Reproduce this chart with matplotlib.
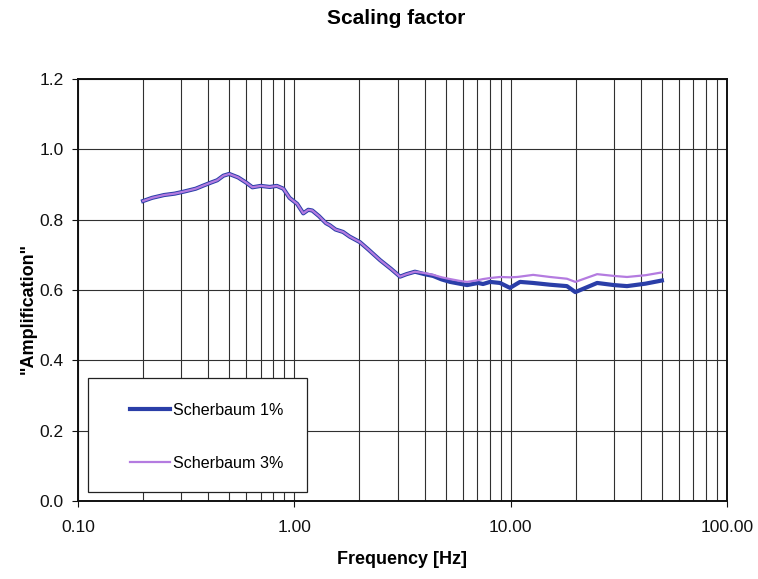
import numpy as np
import matplotlib
matplotlib.use("Agg")
import matplotlib.pyplot as plt
from matplotlib.patches import Rectangle
from matplotlib.ticker import LogLocator, FixedLocator, FixedFormatter

# Daten
freq = [0.20, 0.22, 0.25, 0.28, 0.31, 0.35, 0.38, 0.41, 0.44, 0.47, 0.50,
        0.55, 0.60, 0.64, 0.70, 0.77, 0.83, 0.89, 0.95, 1.03, 1.10, 1.16,
        1.21, 1.30, 1.40, 1.46, 1.55, 1.68, 1.80, 2.01, 2.20, 2.49, 2.80,
        3.08, 3.30, 3.61, 4.00, 4.38, 4.80, 5.25, 5.80, 6.29, 7.07, 7.45,
        8.03, 8.93, 9.93, 10.7, 11.05, 12.7, 15.2, 18.2, 19.9, 25.1, 30.0,
        34.5, 42.0, 50.0]

amp_1 = [0.853, 0.862, 0.870, 0.874, 0.880, 0.888, 0.897, 0.905, 0.912, 0.925,
         0.930, 0.920, 0.905, 0.892, 0.896, 0.893, 0.896, 0.888, 0.862, 0.845,
         0.818, 0.828, 0.826, 0.810, 0.790, 0.784, 0.772, 0.765, 0.752, 0.736,
         0.715, 0.685, 0.660, 0.638, 0.645, 0.652, 0.645, 0.640, 0.630, 0.623,
         0.618, 0.614, 0.620, 0.617, 0.623, 0.620, 0.606, 0.618, 0.623, 0.620,
         0.615, 0.611, 0.594, 0.620, 0.614, 0.611, 0.618, 0.627]

amp_3 = [0.853, 0.862, 0.870, 0.874, 0.880, 0.888, 0.897, 0.905, 0.912, 0.925,
         0.930, 0.920, 0.905, 0.892, 0.896, 0.893, 0.896, 0.888, 0.862, 0.845,
         0.818, 0.828, 0.826, 0.810, 0.790, 0.784, 0.772, 0.765, 0.752, 0.736,
         0.715, 0.685, 0.660, 0.638, 0.645, 0.652, 0.648, 0.643, 0.636, 0.631,
         0.626, 0.623, 0.628, 0.631, 0.634, 0.637, 0.636, 0.637, 0.638, 0.643,
         0.637, 0.632, 0.623, 0.645, 0.640, 0.637, 0.642, 0.650]

labels = ["Scherbaum 1%", "Scherbaum 3%"]
x_ticks = [0.1, 1, 10, 100]
x_ticklabels = ["0.10", "1.00", "10.00", "100.00"]
y_ticks = [0.0, 0.2, 0.4, 0.6, 0.8, 1.0, 1.2]
y_ticklabels = ["0.0", "0.2", "0.4", "0.6", "0.8", "1.0", "1.2"]

# Schrift
plt.rcParams['font.family'] = ['Liberation Sans', 'DejaVu Sans']

fig = plt.figure(figsize=(7.58, 5.79), dpi=100)
ax = fig.add_axes([0.1029, 0.1347, 0.8562, 0.7289])

ax.plot(freq, amp_1, color='#2a3ea8', linewidth=3.0, label=labels[0], zorder=3)
ax.plot(freq, amp_3, color='#b47be0', linewidth=1.6, label=labels[1], zorder=4)

ax.set_xscale('log')
ax.set_xlim(0.1, 100)
ax.set_ylim(0, 1.2)

ax.xaxis.set_major_locator(FixedLocator(x_ticks))
ax.xaxis.set_major_formatter(FixedFormatter(x_ticklabels))
ax.xaxis.set_minor_locator(LogLocator(base=10, subs=np.arange(2, 10)))
ax.xaxis.set_minor_formatter(FixedFormatter([]))
ax.set_yticks(y_ticks)
ax.set_yticklabels(y_ticklabels)

ax.grid(True, which='both', axis='x', color='#303030', linewidth=0.8)
ax.grid(True, which='major', axis='y', color='#303030', linewidth=0.8)
ax.set_axisbelow(True)

ax.tick_params(axis='both', which='major', labelsize=12.5, direction='out',
               length=4, width=0.8, colors='#111111')
ax.tick_params(axis='x', which='major', pad=9.5)
ax.tick_params(axis='y', which='major', pad=6.5)
ax.tick_params(axis='x', which='minor', length=0)
for s in ax.spines.values():
    s.set_linewidth(1.4)
    s.set_color('#111111')

ax.set_xlabel("Frequency [Hz]", fontsize=13, fontweight='bold')
ax.xaxis.set_label_coords(0.499, -0.119)
ax.set_ylabel('"Amplification"', fontsize=13, fontweight='bold')
ax.yaxis.set_label_coords(-0.064, 0.457)
fig.text(0.5225, 1 - 9 / 579, "Scaling factor", fontsize=15,
         fontweight='bold', ha='center', va='top')

# Legendenrahmen
ax.add_patch(Rectangle((0.0154, 0.0213), 0.3374, 0.270, transform=ax.transAxes,
                       facecolor='white', edgecolor='#222222', linewidth=0.9,
                       zorder=5))
leg = ax.legend(loc='upper left', bbox_to_anchor=(0.0801, 0.233),
                fontsize=11.6, frameon=False, borderpad=0,
                labelspacing=2.35, handlelength=2.5, handletextpad=0.2,
                borderaxespad=0)
leg.set_zorder(6)

fig.savefig("out.png", dpi=100)
